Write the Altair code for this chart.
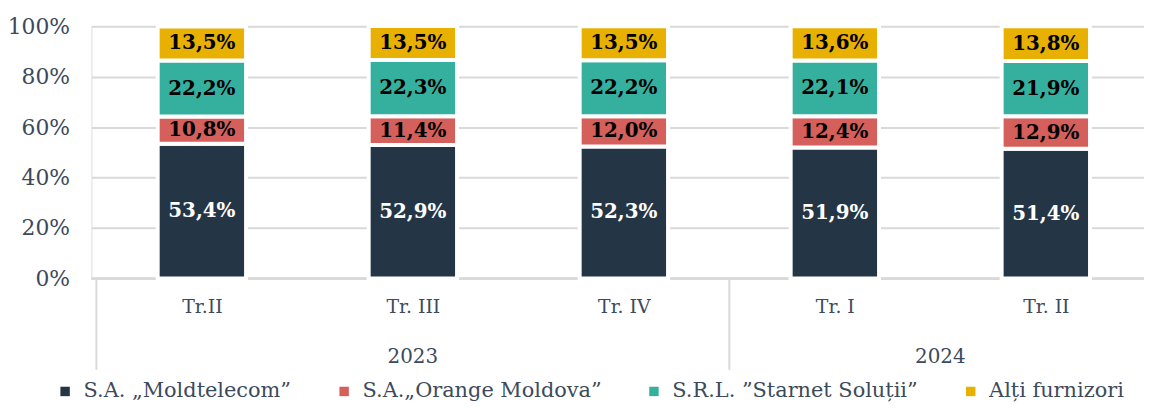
import altair as alt
import pandas as pd

quarters = ["Tr.II", "Tr. III", "Tr. IV", "Tr. I", "Tr. II"]
years = ["2023", "2023", "2023", "2024", "2024"]
companies = ["S.A. „Moldtelecom”", "S.A.„Orange Moldova”", "S.R.L. ”Starnet Soluții”", "Alți furnizori"]
moldtelecom = [53.4, 52.9, 52.3, 51.9, 51.4]
orange = [10.8, 11.4, 12.0, 12.4, 12.9]
starnet = [22.2, 22.3, 22.2, 22.1, 21.9]
altii = [13.5, 13.5, 13.5, 13.6, 13.8]
colors = ["#243646", "#d45f5b", "#36b09e", "#e8b000"]

series = [moldtelecom, orange, starnet, altii]
rows = []
for ci, (comp, vals) in enumerate(zip(companies, series)):
    for qi, v in enumerate(vals):
        rows.append({"idx": qi + 1, "quarter": quarters[qi], "year": years[qi],
                     "company": comp, "order": ci, "value": v / 100.0,
                     "label": f"{v:.1f}".replace(".", ",") + "%"})
df = pd.DataFrame(rows)

year_names = sorted(set(years))
year_rows = []
bound_rows = [{"b": 0.5}]
for y in year_names:
    idxs = [i + 1 for i, yy in enumerate(years) if yy == y]
    year_rows.append({"year": y, "center": sum(idxs) / len(idxs)})
    bound_rows.append({"b": max(idxs) + 0.5})
ydf = pd.DataFrame(year_rows)
bdf = pd.DataFrame(bound_rows)

FONT = "DejaVu Serif"
TXT = "#3b4a5c"
W, H = 1060, 254
step = 214.5
xscale = alt.Scale(domain=[0.5, 0.5 + W / step], nice=False, zero=False)

label_expr = "[" + ",".join(f"'{q}'" for q in quarters) + "][datum.value - 1]"

base = alt.Chart(df)

bars = base.mark_bar(size=89, stroke="white", strokeWidth=4).encode(
    x=alt.X("idx:Q", scale=xscale,
            axis=alt.Axis(values=[1, 2, 3, 4, 5], labelExpr=label_expr, grid=False,
                          ticks=False, domain=False, labelFont=FONT, labelFontSize=19,
                          labelColor=TXT, labelPadding=19, title=None)),
    y=alt.Y("value:Q", stack="zero", scale=alt.Scale(domain=[0, 1], nice=False),
            axis=alt.Axis(format="%", values=[0, 0.2, 0.4, 0.6, 0.8, 1.0], grid=True,
                          gridColor="#d9d9d9", gridWidth=2, ticks=False, domain=False,
                          labelFont=FONT, labelFontSize=22, labelColor=TXT,
                          labelPadding=22, title=None)),
    color=alt.Color("company:N", sort=companies,
                    scale=alt.Scale(domain=companies, range=colors),
                    legend=alt.Legend(orient="none", direction="horizontal",
                                      legendX=-37, legendY=357, title=None,
                                      symbolType="square", symbolSize=90,
                                      symbolStrokeWidth=0, labelFont=FONT,
                                      labelFontSize=21, labelColor=TXT,
                                      labelOffset=8, columnPadding=42,
                                      labelLimit=400)),
    order=alt.Order("order:Q"),
)

texts = base.transform_stack(
    stack="value", groupby=["idx"], as_=["y0", "y1"], sort=[alt.SortField("order")]
).transform_calculate(
    mid="(datum.y0 + datum.y1) / 2"
).mark_text(font=FONT, fontSize=20, fontWeight="bold").encode(
    x=alt.X("idx:Q", scale=xscale),
    y=alt.Y("mid:Q", scale=alt.Scale(domain=[0, 1], nice=False)),
    text="label:N",
    color=alt.condition(alt.datum.order == 0, alt.value("white"), alt.value("black")),
)

baseline = alt.Chart(bdf).mark_rule(color="#d9d9d9", strokeWidth=2).encode(
    x=alt.value(0), x2=alt.value(W), y=alt.value(H)
)

seps = alt.Chart(bdf).mark_rule(color="#d9d9d9", strokeWidth=2).encode(
    x=alt.X("b:Q", scale=xscale), y=alt.value(H), y2=alt.value(H + 92)
)

year_text = alt.Chart(ydf).mark_text(font=FONT, fontSize=20, color=TXT).encode(
    x=alt.X("center:Q", scale=xscale), y=alt.value(H + 79), text="year:N"
)

chart = alt.layer(baseline, bars, texts, seps, year_text).properties(
    width=W, height=H,
    autosize=alt.AutoSizeParams(type="none"),
    padding={"left": 84, "top": 17, "right": 0, "bottom": 124},
).configure_view(stroke=None).configure(background="white")

chart.save("out.html", embed_options={"renderer": "svg", "actions": False})
